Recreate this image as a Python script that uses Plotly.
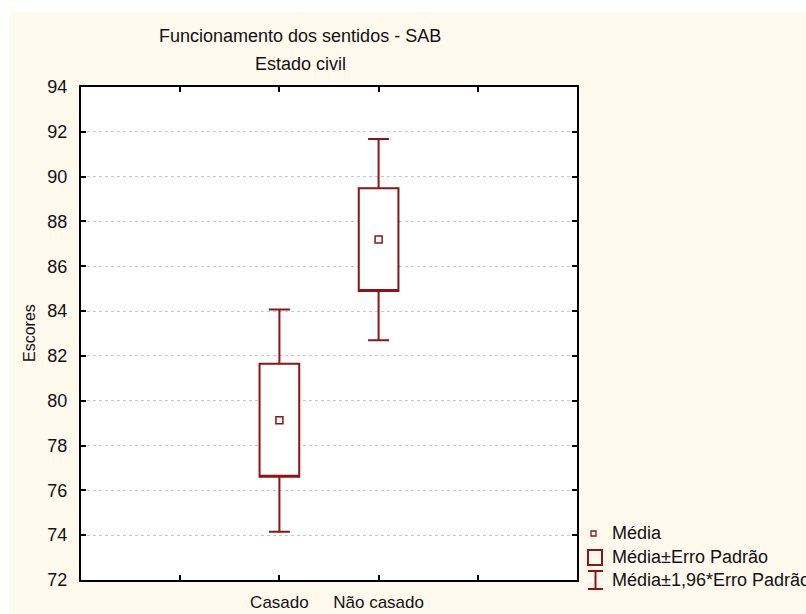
import plotly.graph_objects as go

# Mean scores by marital status, with ±SE box and ±1.96*SE whiskers
categories = ["Casado", "Não casado"]
means = [79.13, 87.19]
se_low = [76.61, 84.90]
se_high = [81.65, 89.48]
ci_low = [74.15, 82.70]
ci_high = [84.07, 91.68]

y_ticks = list(range(72, 95, 2))

RED = "#8C1414"
FONT = "Arial, Liberation Sans, sans-serif"

# one empty slot on each side of the two groups
slots = [""] + categories + [""]
xpos = [slots.index(c) for c in categories]

fig = go.Figure()

fig.add_trace(go.Box(
    x=xpos,
    q1=se_low,
    median=se_low,
    q3=se_high,
    lowerfence=ci_low,
    upperfence=ci_high,
    width=0.4,
    whiskerwidth=0.53,
    line=dict(color=RED, width=2),
    fillcolor="white",
    boxpoints=False,
    hoverinfo="skip",
    showlegend=False,
))

fig.add_trace(go.Scatter(
    x=xpos,
    y=means,
    mode="markers",
    marker=dict(symbol="square-open", size=7, color=RED, line=dict(width=1.5, color=RED)),
    hoverinfo="skip",
    showlegend=False,
))

# paper-space helpers (plot area spans 81..577 px horizontally, 87..580 px vertically)
def px(x):
    return (x - 81) / 496

def py(y):
    return (580 - y) / 493

shapes = [
    # cream page background
    dict(type="rect", xref="paper", yref="paper", x0=px(9), x1=px(820), y0=py(630), y1=py(12),
         fillcolor="#FFF9EE", line=dict(width=0), layer="below"),
    # white plotting area
    dict(type="rect", xref="paper", yref="paper", x0=0, x1=1, y0=0, y1=1,
         fillcolor="white", line=dict(width=0), layer="below"),
    # legend: mean marker
    dict(type="rect", xref="paper", yref="paper", x0=px(591), x1=px(596), y0=py(536), y1=py(531),
         line=dict(color=RED, width=1.3), fillcolor="rgba(0,0,0,0)"),
    # legend: SE box
    dict(type="rect", xref="paper", yref="paper", x0=px(588), x1=px(602), y0=py(565), y1=py(550),
         line=dict(color=RED, width=2), fillcolor="rgba(0,0,0,0)"),
    # legend: 1.96*SE whisker
    dict(type="line", xref="paper", yref="paper", x0=px(595.5), x1=px(595.5), y0=py(589), y1=py(571),
         line=dict(color=RED, width=2)),
    dict(type="line", xref="paper", yref="paper", x0=px(588), x1=px(603), y0=py(571), y1=py(571),
         line=dict(color=RED, width=2)),
    dict(type="line", xref="paper", yref="paper", x0=px(588), x1=px(603), y0=py(589), y1=py(589),
         line=dict(color=RED, width=2)),
]

legend_labels = ["Média", "Média±Erro Padrão", "Média±1,96*Erro Padrão"]
legend_y = [533, 557, 579.5]

annotations = [
    dict(text="Funcionamento dos sentidos - SAB", xref="paper", yref="paper", x=px(300), y=py(36),
         xanchor="center", yanchor="middle", showarrow=False, font=dict(size=18, color="#111")),
    dict(text="Estado civil", xref="paper", yref="paper", x=px(300), y=py(64),
         xanchor="center", yanchor="middle", showarrow=False, font=dict(size=18, color="#111")),
    dict(text="Escores", xref="paper", yref="paper", x=px(29), y=py(333), textangle=-90,
         xanchor="center", yanchor="middle", showarrow=False, font=dict(size=16, color="#111")),
]
for label, ly in zip(legend_labels, legend_y):
    annotations.append(dict(text=label, xref="paper", yref="paper", x=px(610), y=py(ly),
                            xanchor="left", yanchor="middle", showarrow=False,
                            font=dict(size=18, color="#111")))

fig.update_layout(
    width=806,
    height=614,
    autosize=False,
    margin=dict(l=81, r=229, t=87, b=34),
    paper_bgcolor="white",
    plot_bgcolor="rgba(0,0,0,0)",
    font=dict(family=FONT, size=17, color="#111"),
    shapes=shapes,
    annotations=annotations,
    showlegend=False,
    xaxis=dict(
        range=[-1, len(slots)],
        tickmode="array",
        tickvals=list(range(len(slots))),
        ticktext=slots,
        ticks="inside",
        ticklen=5,
        tickwidth=1.5,
        tickcolor="black",
        showline=True,
        linecolor="black",
        linewidth=2,
        mirror="ticks",
        showgrid=False,
        zeroline=False,
        automargin=False,
        ticklabelstandoff=6,
        tickfont=dict(size=17),
    ),
    yaxis=dict(
        range=[72, 94],
        tickmode="array",
        tickvals=y_ticks,
        ticks="inside",
        ticklen=5,
        tickwidth=1.5,
        tickcolor="black",
        showline=True,
        linecolor="black",
        linewidth=2,
        mirror="ticks",
        showgrid=True,
        gridcolor="#C8C8C8",
        griddash="dot",
        gridwidth=1,
        zeroline=False,
        automargin=False,
        ticklabelstandoff=8,
        tickfont=dict(size=18),
    ),
)

fig.write_html("out.html")
